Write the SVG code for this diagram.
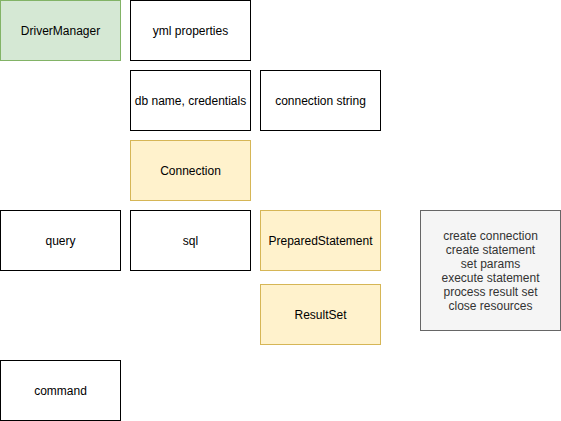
<svg xmlns="http://www.w3.org/2000/svg" width="561" height="421" viewBox="0 0 561 421">
<style>
rect{stroke-width:1}
.w{fill:#ffffff;stroke:#000000}
.g{fill:#d5e8d4;stroke:#82b366}
.y{fill:#fff2cc;stroke:#d6b656}
.n{fill:#f5f5f5;stroke:#666666}
text{font-family:"Liberation Sans",Arial,Helvetica,sans-serif;font-size:12px;fill:#000000;text-anchor:middle}
.t{fill:#333333}
</style>
<rect width="561" height="421" fill="#ffffff"/>
<g id="driverManager"><rect class="g" x="0.5" y="0.5" width="120" height="60"/><text x="60.5" y="35">DriverManager</text></g>
<g id="ymlProperties"><rect class="w" x="130.5" y="0.5" width="120" height="60"/><text x="190.5" y="35">yml properties</text></g>
<g id="dbName"><rect class="w" x="130.5" y="70.5" width="120" height="60"/><text x="190.5" y="105">db name, credentials</text></g>
<g id="connectionString"><rect class="w" x="260.5" y="70.5" width="120" height="60"/><text x="320.5" y="105">connection string</text></g>
<g id="connection"><rect class="y" x="130.5" y="140.5" width="120" height="60"/><text x="190.5" y="175">Connection</text></g>
<g id="query"><rect class="w" x="0.5" y="210.5" width="120" height="60"/><text x="60.5" y="245">query</text></g>
<g id="sql"><rect class="w" x="130.5" y="210.5" width="120" height="60"/><text x="190.5" y="245">sql</text></g>
<g id="preparedStatement"><rect class="y" x="260.5" y="210.5" width="120" height="60"/><text x="320.5" y="245">PreparedStatement</text></g>
<g id="resultSet"><rect class="y" x="260.5" y="284.5" width="120" height="60"/><text x="320.5" y="319">ResultSet</text></g>
<g id="command"><rect class="w" x="0.5" y="360.5" width="120" height="60"/><text x="60.5" y="395">command</text></g>
<g id="steps"><rect class="n" x="420.5" y="210.5" width="140" height="120"/>
<text class="t" x="490.5" y="240">create connection</text>
<text class="t" x="490.5" y="254">create statement</text>
<text class="t" x="490.5" y="268">set params</text>
<text class="t" x="490.5" y="282">execute statement</text>
<text class="t" x="490.5" y="296">process result set</text>
<text class="t" x="490.5" y="310">close resources</text>
</g>
<g id="connectors"></g>
</svg>
